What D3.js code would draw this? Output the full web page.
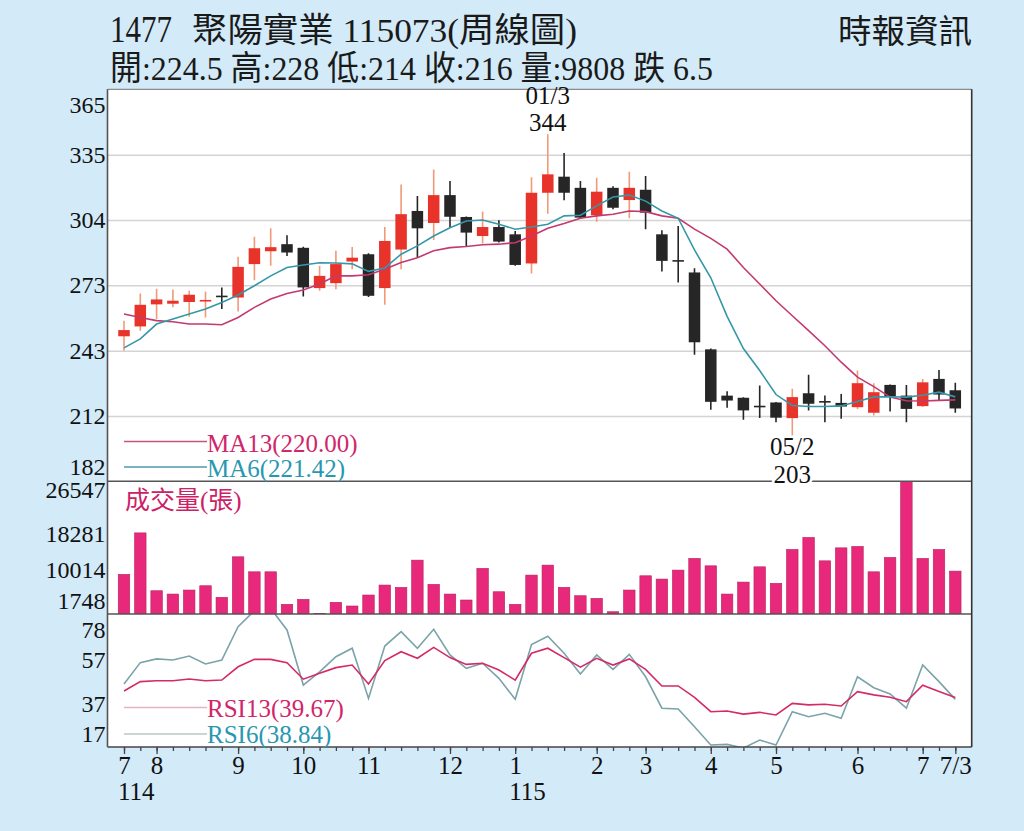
<!DOCTYPE html>
<html><head><meta charset="utf-8">
<script src="https://cdn.jsdelivr.net/npm/d3@7"></script>
<style>body{margin:0;background:#d3eaf8}svg{display:block}</style>
</head><body>
<svg id="c" width="1024" height="831"></svg>
<script>
// ---------- data ----------
const weeks = [
 "114/07/4","114/07/5",
 "114/08/1","114/08/2","114/08/3","114/08/4","114/08/5",
 "114/09/1","114/09/2","114/09/3","114/09/4",
 "114/10/1","114/10/2","114/10/3","114/10/4",
 "114/11/1","114/11/2","114/11/3","114/11/4","114/11/5",
 "114/12/1","114/12/2","114/12/3","114/12/4",
 "115/01/1","115/01/2","115/01/3","115/01/4","115/01/5",
 "115/02/1","115/02/2","115/02/3",
 "115/03/1","115/03/2","115/03/3","115/03/4",
 "115/04/1","115/04/2","115/04/3","115/04/4",
 "115/05/1","115/05/2","115/05/3","115/05/4","115/05/5",
 "115/06/1","115/06/2","115/06/3","115/06/4",
 "115/07/1","115/07/2","115/07/3"];
const open  = [249.7,254.3,264.6,264.9,265.7,266.0,268.4,267.8,283.4,289.4,292.7,291.0,272.2,274.5,284.6,288.0,272.2,290.2,308.2,302.6,315.6,305.4,296.5,300.7,297.3,283.7,316.7,324.2,319.0,306.2,319.0,313.3,318.1,297.3,285.0,279.5,243.6,222.0,221.0,217.0,218.8,211.5,223.1,219.2,218.6,216.6,214.0,227.0,222.0,217.1,229.8,224.5];
const high  = [257.0,269.7,271.9,271.5,270.9,270.6,272.5,286.8,296.2,300.1,296.9,291.5,282.6,289.6,291.4,288.5,300.7,320.6,315.2,327.6,322.2,305.6,307.9,303.9,298.9,324.0,344.0,335.3,322.2,323.7,319.7,326.5,324.5,299.2,301.2,281.5,244.0,224.0,221.2,226.7,219.0,225.2,231.7,222.1,222.8,233.7,227.8,227.2,227.0,229.8,234.0,228.0];
const low   = [243.0,252.3,257.8,263.2,258.8,258.5,262.4,261.3,275.9,282.6,287.2,268.3,270.9,271.7,281.0,268.0,264.4,281.0,286.4,294.7,300.4,291.4,293.0,293.5,282.6,279.0,306.9,313.2,304.5,303.2,309.0,304.8,299.7,279.9,274.8,241.1,215.4,216.3,210.7,211.5,209.6,203.0,215.0,209.6,211.2,215.8,212.7,214.6,209.6,216.7,219.7,214.0];
const close = [252.6,264.4,266.9,266.3,269.1,266.6,268.2,282.1,290.8,291.3,288.8,272.5,277.9,283.4,286.4,268.6,294.2,306.7,300.1,315.6,305.5,298.1,300.7,293.9,283.0,316.7,325.3,316.7,305.1,317.2,309.7,319.0,307.4,284.9,284.8,246.9,219.1,219.7,215.1,216.8,211.7,221.3,218.2,219.0,216.9,227.8,223.6,221.6,215.8,228.2,222.5,216.0];
const ma13  = [260.1,258.5,257.0,256.5,255.4,255.4,255.1,258.5,263.2,267.1,269.7,271.3,274.1,277.9,277.9,278.4,281.0,284.1,286.4,289.6,291.1,291.6,292.4,292.7,293.4,296.5,300.1,302.3,304.8,305.9,306.7,308.2,307.9,305.9,304.8,299.7,295.4,290.4,281.8,274.1,266.3,259.3,252.3,245.3,237.6,230.6,226.2,221.3,219.6,219.5,219.8,220.0];
const ma6   = [244.3,248.5,255.4,257.8,260.1,262.4,265.5,269.0,273.3,277.9,281.8,283.0,284.0,283.9,283.5,280.0,281.6,288.0,291.9,296.5,300.4,303.5,304.0,302.0,299.7,300.7,302.0,305.9,306.2,310.6,314.7,315.6,312.8,308.2,304.8,290.0,277.0,259.0,244.0,233.7,222.5,217.4,216.9,216.9,217.2,219.3,221.4,221.5,221.3,222.2,223.6,221.42];
const volume = [9060,18550,5320,4560,5480,6460,3810,13080,9650,9650,2210,3350,160,2670,1830,4340,6620,6090,12320,6780,4560,3200,10430,5090,2210,8900,11180,6090,4180,3580,520,5480,8740,7990,10040,12710,11020,4560,7300,10790,7010,14760,17500,12160,15130,15450,9650,12940,30350,12710,14760,9808];
const rsi13 = [42.7,47.0,47.4,47.4,48.2,47.4,47.7,53.8,57.2,57.2,55.7,48.1,50.8,53.4,54.6,45.9,56.6,60.7,57.7,62.7,58.0,54.9,55.4,52.3,47.7,60.0,62.3,58.0,53.6,57.7,54.6,57.4,52.6,45.0,45.0,39.8,33.2,33.5,32.1,32.9,31.7,37.0,36.3,36.6,35.8,42.4,40.9,39.8,37.8,45.3,42.4,39.67];
const rsi6  = [45.9,55.7,57.4,56.9,58.7,55.1,56.9,72.2,79.5,80.5,70.7,45.4,51.5,58.4,62.3,39.3,63.3,69.9,62.3,71.0,59.2,53.1,55.4,48.5,38.9,64.0,67.8,60.0,50.5,59.2,52.6,59.5,49.2,34.8,34.4,26.3,17.9,18.2,16.5,20.2,17.9,33.2,30.9,32.5,30.2,49.2,44.2,41.3,34.8,54.6,47.0,38.84];

const priceTicks = [365,334.5,304,273.5,243,212.5,182];
const priceTickLabels = ["365","335","304","273","243","212","182"];
const volTicks = [26547,18281,10014,1748];
const volTickLabels = ["26547","18281","10014","1748"];
const rsiTicks = [78,57,37,17];
const rsiTickLabels = ["78","57","37","17"];
const monthTickWeeks = ["114/07/4","114/08/1","114/09/1","114/10/1","114/11/1","114/12/1","115/01/1","115/02/1","115/03/1","115/04/1","115/05/1","115/06/1","115/07/1","115/07/3"];
const monthTickLabels = ["7","8","9","10","11","12","1","2","3","4","5","6","7","7/3"];
const yearTickWeeks = ["114/07/4","115/01/1"];
const yearTickLabels = ["114","115"];
const annotations = [
  {week:"115/01/3", date:"01/3", value:344, pos:"top"},
  {week:"115/05/2", date:"05/2", value:203, pos:"bottom"}
];
const title1a = "1477";
const title1b = "聚陽實業 115073(周線圖)";
const source = "時報資訊";
const last = {open:224.5, high:228, low:214, close:216, vol:9808, chg:"跌 6.5"};

// ---------- layout ----------
const svg = d3.select('#c');
const L=107.5, R=971.7, T=89.3, PB=481.3, VB=614, RB=747;
const serif = "'Liberation Serif','Times New Roman','Noto Sans CJK TC',serif";
const cjk = "'Noto Sans CJK TC','Noto Sans CJK SC',sans-serif";
const RED="#e8332b", REDWICK="#f09a78", BLK="#262626";

svg.append('rect').attr('width',1024).attr('height',831).attr('fill','#d3eaf8');
svg.append('rect').attr('x',L).attr('y',T).attr('width',R-L).attr('height',RB-T).attr('fill','#fff');

const x = d3.scalePoint().domain(weeks).range([124,955.3]);
const bw = 11.5;
const yP = d3.scaleLinear().domain([182,365]).range([PB,T]);
const yV = d3.scaleLinear().domain([0,30350]).range([VB,PB]);
const yR = d3.scaleLinear().domain([17,78]).range([RB,VB]);

const defs = svg.append('defs');
function clip(id,y0,y1){defs.append('clipPath').attr('id',id).append('rect').attr('x',L).attr('y',y0).attr('width',R-L).attr('height',y1-y0);}
clip('cp',T,PB); clip('cv',PB,VB); clip('cr',VB,RB);

// gridlines (price)
const grid = svg.append('g').attr('transform',`translate(${L},0)`)
  .call(d3.axisRight(yP).tickValues(priceTicks.slice(1,-1)).tickSize(R-L).tickFormat(''));
grid.select('.domain').remove();
grid.selectAll('line').attr('stroke','#d4d4d4').attr('stroke-width',1.5);

// candles
const pc = svg.append('g').attr('clip-path','url(#cp)');
weeks.forEach((w,i)=>{
  const up = close[i] > open[i];
  const cx = x(w);
  pc.append('line').attr('x1',cx).attr('x2',cx).attr('y1',yP(high[i])).attr('y2',yP(low[i]))
    .attr('stroke', up?REDWICK:BLK).attr('stroke-width',1.6);
  const y0 = yP(Math.max(open[i],close[i])), y1 = yP(Math.min(open[i],close[i]));
  const h = Math.max(1.6, y1-y0);
  pc.append('rect').attr('x',cx-bw/2).attr('y',(y1-y0)<1.6?(y0+y1)/2-0.8:y0).attr('width',bw).attr('height',h)
    .attr('fill', up?RED:BLK);
});
// MA lines
const lineP = d3.line().x((d,i)=>x(weeks[i])).y(d=>yP(d));
pc.append('path').datum(ma13).attr('d',lineP).attr('fill','none').attr('stroke','#c4396f').attr('stroke-width',1.6);
pc.append('path').datum(ma6).attr('d',lineP).attr('fill','none').attr('stroke','#3597a8').attr('stroke-width',1.6);

// volume
const vg = svg.append('g').attr('clip-path','url(#cv)');
weeks.forEach((w,i)=>{
  vg.append('rect').attr('x',x(w)-bw/2).attr('y',yV(volume[i])).attr('width',bw).attr('height',VB-yV(volume[i]))
    .attr('fill','#e8297b').attr('stroke','#b8215e').attr('stroke-width',0.6);
});

// RSI
const rg = svg.append('g').attr('clip-path','url(#cr)');
const lineR = d3.line().x((d,i)=>x(weeks[i])).y(d=>yR(d));
rg.append('path').datum(rsi6).attr('d',lineR).attr('fill','none').attr('stroke','#7aa3aa').attr('stroke-width',1.6);
rg.append('path').datum(rsi13).attr('d',lineR).attr('fill','none').attr('stroke','#d42a66').attr('stroke-width',1.6);

// borders
const bl = (x1,y1,x2,y2,c,w)=>svg.append('line').attr('x1',x1).attr('y1',y1).attr('x2',x2).attr('y2',y2).attr('stroke',c).attr('stroke-width',w);
bl(L,T,R,T,'#8a8a8a',1.2);
bl(L,PB,R,PB,'#555',1.6);
bl(L,VB,R,VB,'#555',1.6);
bl(L,RB,R,RB,'#444',1.6);
bl(L,T,L,RB,'#555',1.6);
bl(R,T,R,RB,'#333',1.6);

// left axes
function leftAxis(scale,ticks,labels,top,bottom){
  const g = svg.append('g').attr('transform',`translate(${L},0)`)
    .call(d3.axisLeft(scale).tickValues(ticks).tickSize(0).tickPadding(2).tickFormat((d,i)=>labels[i]));
  g.select('.domain').remove();
  g.selectAll('text').attr('font-family',serif).attr('font-size',24).attr('fill','#111')
   .attr('dy',(d,i)=> i===0 ? top : (i===ticks.length-1 ? bottom : '0.32em'));
}
leftAxis(yP,priceTicks,priceTickLabels,'0.98em','-0.28em');
leftAxis(yV,volTicks,volTickLabels,'0.0em','0.1em');
leftAxis(yR,rsiTicks,rsiTickLabels,'0.98em','-0.22em');

// bottom axis
const minor = svg.append('g').attr('transform',`translate(0,${RB})`)
  .call(d3.axisBottom(x).tickValues(weeks).tickSize(4).tickFormat(''));
minor.select('.domain').remove();
minor.selectAll('line').attr('stroke','#444').attr('stroke-width',1.3);
const major = svg.append('g').attr('transform',`translate(0,${RB})`)
  .call(d3.axisBottom(x).tickValues(monthTickWeeks).tickSize(7).tickPadding(2).tickFormat((d,i)=>monthTickLabels[i]));
major.select('.domain').remove();
major.selectAll('line').attr('stroke','#444').attr('stroke-width',1.3);
major.selectAll('text').attr('font-family',serif).attr('font-size',25).attr('fill','#111');
yearTickWeeks.forEach((w,i)=>{
  svg.append('text').attr('x',x(w)-6).attr('y',800).attr('font-family',serif).attr('font-size',25).attr('fill','#111').text(yearTickLabels[i]);
});

// legends
function legend(y,ty,col,lcol,label){
  bl(124,y,207,y,lcol,1.3);
  svg.append('text').attr('x',207).attr('y',ty).attr('font-family',serif).attr('font-size',25).attr('fill',col).text(label);
}
legend(441.5,451.5,'#d1266b','#c4567e','MA13('+ma13[ma13.length-1].toFixed(2)+')');
legend(467,476.5,'#2a97b0','#4f9aa8','MA6('+ma6[ma6.length-1].toFixed(2)+')');
legend(707.5,716.5,'#d1266b','#e2b4c4','RSI13('+rsi13[rsi13.length-1].toFixed(2)+')');
legend(734,743,'#2a97b0','#b8c8c8','RSI6('+rsi6[rsi6.length-1].toFixed(2)+')');
svg.append('text').attr('x',125).attr('y',509).attr('font-family',serif).attr('font-size',25).attr('fill','#cc2166').text('成交量(張)');

// annotations
annotations.forEach(a=>{
  const cx = x(a.week);
  const g = svg.append('g').attr('font-family',serif).attr('font-size',25).attr('fill','#111').attr('text-anchor','middle')
    .attr('stroke','#fff').attr('stroke-width',a.pos==='bottom'?5:0).attr('paint-order','stroke');
  if(a.pos==='top'){
    g.append('text').attr('x',cx).attr('y',yP(a.value)-30).text(a.date);
    g.append('text').attr('x',cx).attr('y',yP(a.value)-3).text(a.value);
  } else {
    g.append('text').attr('x',cx).attr('y',yP(a.value)+19).text(a.date);
    g.append('text').attr('x',cx).attr('y',yP(a.value)+47).text(a.value);
  }
});

// title
svg.append('text').attr('x',110).attr('y',42).attr('font-family',serif).attr('font-size',38).attr('fill','#1a1a1a')
  .attr('textLength',62).attr('lengthAdjust','spacingAndGlyphs').text(title1a);
svg.append('text').attr('x',192).attr('y',42).attr('font-family',serif).attr('font-size',34).attr('fill','#1a1a1a')
  .attr('textLength',385).attr('lengthAdjust','spacingAndGlyphs').text(title1b);
const line2 = `開:${last.open} 高:${last.high} 低:${last.low} 收:${last.close} 量:${last.vol} ${last.chg}`;
svg.append('text').attr('x',110).attr('y',80).attr('font-family',serif).attr('font-size',34).attr('fill','#1a1a1a')
  .attr('textLength',603).attr('lengthAdjust','spacingAndGlyphs').text(line2);
svg.append('text').attr('x',838).attr('y',43).attr('font-family',cjk).attr('font-size',33).attr('fill','#1a1a1a')
  .attr('textLength',134).attr('lengthAdjust','spacingAndGlyphs').text(source);
</script>
</body></html>
